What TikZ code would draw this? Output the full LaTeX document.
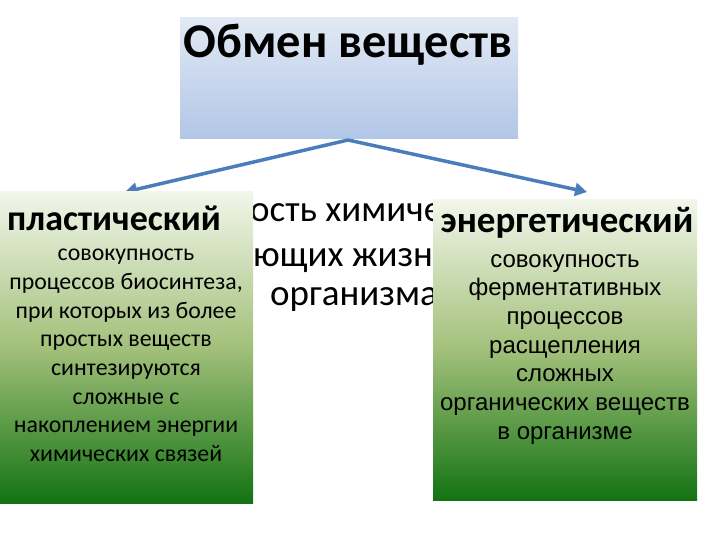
\documentclass[tikz,border=0pt]{standalone}
\usepackage{fontspec}
\setmainfont{Carlito}
\newfontfamily\arialf{Liberation Sans}
\usetikzlibrary{arrows.meta}
\definecolor{arrowblue}{HTML}{4A7EBB}
\definecolor{titletop}{HTML}{E2E9F4}
\definecolor{titlebot}{HTML}{B2C6E7}
\definecolor{gtop}{HTML}{F2F6EA}
\definecolor{gmid}{HTML}{A2C07A}
\definecolor{gbot}{HTML}{137313}
\tikzset{
  greenbox/.style={inner sep=0pt, top color=gtop, bottom color=gbot, middle color=gmid},
  conn/.style={draw=arrowblue, line width=3.5pt, -{Triangle[length=12pt,width=13pt]}},
  bgtext/.style={anchor=base west, inner sep=0pt, font=\fontsize{37}{37}\selectfont},
}
\begin{document}
\begin{tikzpicture}[x=1pt,y=-1pt]
\useasboundingbox (0,0) rectangle (720,540);
\fill[white] (0,0) rectangle (720,540);
% title box
\node[draw=none, inner sep=0pt, minimum width=338pt, minimum height=121pt, top color=titletop, bottom color=titlebot, anchor=north west] (title) at (180,17) {};
\node[anchor=base, inner sep=0pt, font=\bfseries\fontsize{48.5}{48.5}\selectfont] (titletext) at (348,58) {Обмен веществ};
% background text fragments
\node[bgtext] (bg1) at (250,222) {ость химиче};
\node[bgtext] (bg2) at (253,266) {ющих жизне};
\node[bgtext] (bg3) at (270,305) {организма};
% arrows
\coordinate (apex) at (348,140);
\coordinate (ltip) at (125,192);
\coordinate (rtip) at (587,192);
\draw[conn] (apex) -- (ltip);
\draw[conn] (apex) -- (rtip);
% left box
\path[greenbox] (0,192) rectangle (253,503);
\node[anchor=base, inner sep=0pt, font=\bfseries\fontsize{36}{36}\selectfont] (lhead) at (114,230) {пластический};
\node[anchor=north, inner sep=0pt, align=center, font=\fontsize{23.8}{28.7}\selectfont] (lbody) at (126,249)
 {совокупность\\процессов биосинтеза,\\при которых из более\\простых веществ\\синтезируются\\сложные с\\накоплением энергии\\химических связей};
% right box
\path[greenbox] (433,200) rectangle (697,500);
\node[anchor=base, inner sep=0pt, font=\bfseries\fontsize{37}{37}\selectfont] (rhead) at (567,233) {энергетический};
\node[anchor=north, inner sep=0pt, align=center, font=\arialf\fontsize{24}{28.7}\selectfont] (rbody) at (565,254)
 {совокупность\\ферментативных\\процессов\\расщепления\\сложных\\органических веществ\\в организме};
\end{tikzpicture}
\end{document}
